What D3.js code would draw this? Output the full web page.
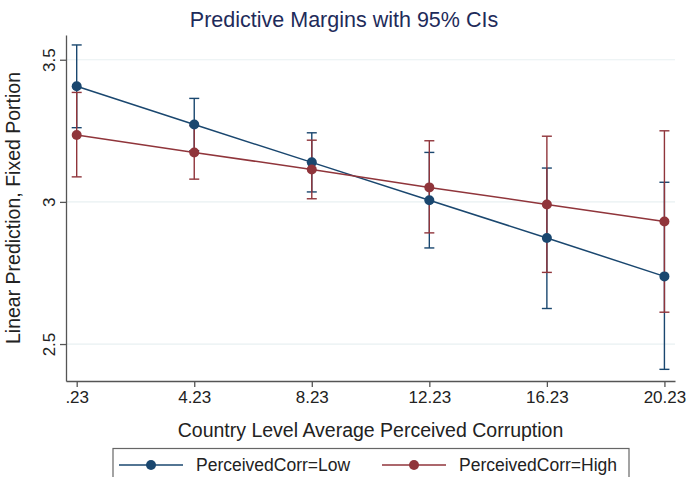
<!DOCTYPE html>
<html>
<head>
<meta charset="utf-8">
<script src="https://cdn.jsdelivr.net/npm/d3@7"></script>
<style>
  body { margin: 0; background: #fff; }
  svg { display: block; font-family: "Liberation Sans", Arial, sans-serif; }
  .tick text { font-family: "Liberation Sans", Arial, sans-serif; }
</style>
</head>
<body>
<svg id="chart" width="688" height="477"></svg>
<script>
// data
var xTicks = [0.23, 4.23, 8.23, 12.23, 16.23, 20.23];
var xTickLabels = [".23", "4.23", "8.23", "12.23", "16.23", "20.23"];
var yTicks = [2.5, 3, 3.5];
var yTickLabels = ["2.5", "3", "3.5"];

var lowMean = [3.407, 3.272, 3.139, 3.006, 2.873, 2.738];
var lowLo   = [3.261, 3.180, 3.035, 2.838, 2.625, 2.411];
var lowHi   = [3.552, 3.364, 3.243, 3.174, 3.119, 3.069];

var highMean = [3.235, 3.174, 3.114, 3.051, 2.991, 2.931];
var highLo   = [3.088, 3.080, 3.011, 2.891, 2.752, 2.612];
var highHi   = [3.385, 3.268, 3.217, 3.215, 3.231, 3.250];

var seriesNames = ["PerceivedCorr=Low", "PerceivedCorr=High"];
var colors = ["#1a476f", "#90353b"];

var fontFam = "'Liberation Sans', Arial, sans-serif";
var svg = d3.select("#chart");

var plotLeft = 66, plotRight = 675, plotTop = 35, plotBottom = 381;

var x = d3.scaleLinear()
          .domain([-0.134, 20.59])
          .range([plotLeft, plotRight]);
var y = d3.scaleLinear()
          .domain([2.37, 3.587])
          .range([plotBottom, plotTop]);

// gridlines
svg.append("g")
    .selectAll("line")
    .data(yTicks)
    .join("line")
    .attr("x1", plotLeft)
    .attr("x2", plotRight)
    .attr("y1", function(d) { return y(d) })
    .attr("y2", function(d) { return y(d) })
    .style("stroke", "#e8f0f2")
    .style("stroke-width", 1.2);

// y axis
var yAxis = svg.append("g")
    .attr("transform", "translate(" + plotLeft + ",0)")
    .call(d3.axisLeft(y)
            .tickValues(yTicks)
            .tickFormat(function(d, i) { return yTickLabels[i] })
            .tickSize(6)
            .tickSizeOuter(0));
yAxis.attr("font-family", fontFam);
yAxis.select(".domain").style("stroke", "#555").style("stroke-width", 1.3);
yAxis.selectAll(".tick line").style("stroke", "#555").style("stroke-width", 1.3);
yAxis.selectAll(".tick text")
    .attr("transform", "rotate(-90)")
    .attr("x", 0)
    .attr("y", -11)
    .attr("dy", 0)
    .attr("text-anchor", "middle")
    .style("font-size", "17px")
    .style("fill", "#222");

// x axis
var xAxis = svg.append("g")
    .attr("transform", "translate(0," + plotBottom + ")")
    .call(d3.axisBottom(x)
            .tickValues(xTicks)
            .tickFormat(function(d, i) { return xTickLabels[i] })
            .tickSize(6)
            .tickSizeOuter(0));
xAxis.attr("font-family", fontFam);
xAxis.select(".domain").style("stroke", "#555").style("stroke-width", 1.3);
xAxis.selectAll(".tick line").style("stroke", "#555").style("stroke-width", 1.3);
xAxis.selectAll(".tick text")
    .attr("y", 10)
    .attr("dy", "0.71em")
    .style("font-size", "17px")
    .style("fill", "#222");

// confidence intervals
var ciSets = [[lowLo, lowHi], [highLo, highHi]];
ciSets.forEach(function(ci, s) {
  var g = svg.append("g")
      .style("stroke", colors[s])
      .style("stroke-width", 1.4)
      .style("fill", "none");
  g.selectAll(".bar")
      .data(xTicks)
      .join("line")
      .attr("x1", function(d) { return x(d) })
      .attr("x2", function(d) { return x(d) })
      .attr("y1", function(d, i) { return y(ci[0][i]) })
      .attr("y2", function(d, i) { return y(ci[1][i]) });
  [0, 1].forEach(function(k) {
    g.selectAll(".cap" + k)
        .data(xTicks)
        .join("line")
        .attr("class", "cap" + k)
        .attr("x1", function(d) { return x(d) - 5 })
        .attr("x2", function(d) { return x(d) + 5 })
        .attr("y1", function(d, i) { return y(ci[k][i]) })
        .attr("y2", function(d, i) { return y(ci[k][i]) });
  });
});

// lines and markers
var line = d3.line()
    .x(function(d) { return x(d[0]) })
    .y(function(d) { return y(d[1]) });

[lowMean, highMean].forEach(function(vals, s) {
  var pts = xTicks.map(function(d, i) { return [d, vals[i]] });
  svg.append("path")
      .datum(pts)
      .attr("d", line)
      .style("fill", "none")
      .style("stroke", colors[s])
      .style("stroke-width", 1.5);
  svg.append("g")
      .selectAll("circle")
      .data(pts)
      .join("circle")
      .attr("cx", function(d) { return x(d[0]) })
      .attr("cy", function(d) { return y(d[1]) })
      .attr("r", 5)
      .style("fill", colors[s]);
});

// titles
svg.append("text")
    .attr("x", 344)
    .attr("y", 27)
    .attr("text-anchor", "middle")
    .style("font-size", "21.5px")
    .style("fill", "#1e2b5a")
    .text("Predictive Margins with 95% CIs");

svg.append("text")
    .attr("x", (plotLeft + plotRight) / 2)
    .attr("y", 437)
    .attr("text-anchor", "middle")
    .style("font-size", "19.5px")
    .style("fill", "#222")
    .text("Country Level Average Perceived Corruption");

svg.append("text")
    .attr("transform", "rotate(-90)")
    .attr("x", -(plotTop + plotBottom) / 2)
    .attr("y", 20)
    .attr("text-anchor", "middle")
    .style("font-size", "19.5px")
    .style("fill", "#222")
    .text("Linear Prediction, Fixed Portion");

// legend
var legend = svg.append("g");
legend.append("rect")
    .attr("x", 113)
    .attr("y", 448.5)
    .attr("width", 516)
    .attr("height", 60)
    .style("fill", "#fff")
    .style("stroke", "#666")
    .style("stroke-width", 1.2);

var legX = [119, 382];
seriesNames.forEach(function(name, s) {
  legend.append("line")
      .attr("x1", legX[s])
      .attr("x2", legX[s] + 64)
      .attr("y1", 465)
      .attr("y2", 465)
      .style("stroke", colors[s])
      .style("stroke-width", 1.5);
  legend.append("circle")
      .attr("cx", legX[s] + 32)
      .attr("cy", 465)
      .attr("r", 5)
      .style("fill", colors[s]);
  legend.append("text")
      .attr("x", legX[s] + 77)
      .attr("y", 471)
      .style("font-size", "17.5px")
      .style("fill", "#222")
      .text(name);
});
</script>
</body>
</html>
